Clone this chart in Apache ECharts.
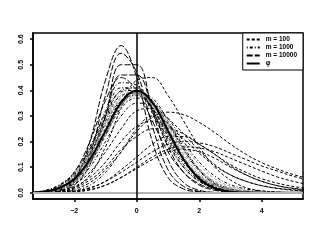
<!DOCTYPE html>
<html>
<head>
<meta charset="utf-8">
<script src="https://cdn.jsdelivr.net/npm/echarts@6/dist/echarts.min.js"></script>
<style>html,body{margin:0;padding:0;background:#fff}#c{width:320px;height:240px}</style>
</head>
<body>
<div id="c"></div>
<script>
// x grid at which densities are read
const xGrid = [-3.5,-3,-2.5,-2,-1.5,-1,-0.5,0,0.5,1,1.5,2,2.5,3,3.5,4,4.5,5,5.5];
const xTicks = [-2,0,2,4];
const yTicks = [0,0.1,0.2,0.3,0.4,0.5,0.6];
const legendNames = ['m = 100','m = 1000','m = 10000','\u03c6'];

// standard normal density
const phiValues = [0.001,0.004,0.018,0.054,0.130,0.242,0.352,0.399,0.352,0.242,0.130,0.054,0.018,0.004,0.001,0,0,0,0];

// m = 100 (dashed)
const m100Curves = [
  [0,0.001,0.005,0.015,0.04,0.09,0.16,0.24,0.295,0.315,0.305,0.275,0.235,0.19,0.15,0.118,0.093,0.072,0.055],
  [0,0,0.003,0.008,0.02,0.045,0.08,0.12,0.16,0.19,0.2,0.195,0.18,0.155,0.13,0.105,0.085,0.065,0.05],
  [0,0,0.002,0.005,0.012,0.03,0.06,0.1,0.14,0.17,0.18,0.175,0.16,0.135,0.11,0.085,0.062,0.045,0.032],
  [0,0.002,0.007,0.02,0.05,0.1,0.17,0.22,0.25,0.25,0.23,0.19,0.15,0.11,0.08,0.055,0.038,0.025,0.017],
  [0,0.002,0.008,0.025,0.06,0.12,0.2,0.26,0.28,0.26,0.21,0.155,0.105,0.07,0.045,0.028,0.017,0.01,0.006],
  [0,0,0.002,0.006,0.018,0.045,0.09,0.14,0.19,0.22,0.22,0.19,0.15,0.105,0.07,0.045,0.028,0.017,0.01],
  [0,0.003,0.012,0.035,0.08,0.16,0.25,0.32,0.33,0.29,0.23,0.165,0.11,0.07,0.045,0.028,0.018,0.012,0.008],
  [0,0,0.001,0.004,0.012,0.03,0.06,0.095,0.13,0.16,0.17,0.16,0.135,0.1,0.07,0.045,0.028,0.018,0.012],
  [0,0.001,0.005,0.02,0.07,0.18,0.33,0.44,0.45,0.38,0.28,0.18,0.1,0.05,0.02,0.008,0.003,0.001,0]
];

// m = 1000 (dot-dash)
const m1000Curves = [
  [0.001,0.005,0.02,0.065,0.16,0.29,0.40,0.41,0.33,0.22,0.12,0.06,0.025,0.01,0.004,0.001,0,0,0],
  [0.001,0.004,0.02,0.06,0.15,0.28,0.38,0.39,0.33,0.23,0.13,0.065,0.03,0.012,0.005,0.002,0.001,0,0],
  [0.001,0.004,0.02,0.06,0.17,0.32,0.43,0.42,0.32,0.2,0.1,0.045,0.018,0.007,0.002,0,0,0,0],
  [0,0.003,0.015,0.05,0.12,0.23,0.33,0.37,0.35,0.27,0.17,0.09,0.04,0.016,0.006,0.002,0,0,0],
  [0,0.002,0.01,0.04,0.1,0.2,0.3,0.35,0.345,0.29,0.2,0.12,0.065,0.032,0.015,0.007,0.003,0.001,0],
  [0.002,0.008,0.03,0.08,0.18,0.31,0.41,0.41,0.31,0.19,0.1,0.045,0.018,0.006,0.002,0,0,0,0],
  [0.001,0.006,0.025,0.07,0.155,0.27,0.36,0.38,0.33,0.23,0.13,0.06,0.024,0.008,0.002,0,0,0,0],
  [0,0.003,0.014,0.05,0.13,0.25,0.36,0.4,0.36,0.25,0.14,0.06,0.02,0.006,0.001,0,0,0,0],
  [0,0,0.003,0.01,0.03,0.08,0.16,0.25,0.3,0.27,0.18,0.09,0.035,0.012,0.004,0.001,0,0,0],
  [0.002,0.007,0.028,0.075,0.17,0.3,0.395,0.4,0.32,0.21,0.11,0.05,0.02,0.007,0.002,0,0,0,0],
  [0,0.002,0.012,0.045,0.115,0.225,0.34,0.39,0.37,0.28,0.17,0.085,0.035,0.012,0.004,0.001,0,0,0]
];

// m = 10000 (long dash)
const m10000Curves = [
  [0,0.002,0.01,0.05,0.2,0.44,0.575,0.45,0.2,0.06,0.015,0.004,0.001,0,0,0,0,0,0],
  [0,0.002,0.01,0.04,0.15,0.38,0.545,0.47,0.26,0.09,0.025,0.006,0.001,0,0,0,0,0,0],
  [0,0.001,0.008,0.03,0.11,0.3,0.5,0.5,0.32,0.13,0.04,0.01,0.002,0,0,0,0,0,0],
  [0.001,0.005,0.025,0.08,0.2,0.36,0.45,0.4,0.28,0.16,0.08,0.035,0.014,0.005,0.001,0,0,0,0],
  [0,0.003,0.012,0.045,0.14,0.3,0.46,0.46,0.33,0.18,0.08,0.03,0.01,0.003,0,0,0,0,0]
];

// lighter grey curves near phi
const greyCurves = [
  [0.001,0.004,0.018,0.058,0.14,0.26,0.37,0.4,0.35,0.25,0.15,0.075,0.032,0.012,0.004,0.001,0,0,0],
  [0,0.003,0.015,0.05,0.125,0.24,0.345,0.39,0.355,0.265,0.17,0.095,0.045,0.02,0.008,0.003,0.001,0,0],
  [0.001,0.006,0.024,0.07,0.16,0.285,0.39,0.41,0.34,0.23,0.13,0.065,0.028,0.01,0.003,0,0,0,0],
  [0,0.002,0.01,0.04,0.11,0.22,0.33,0.38,0.36,0.28,0.19,0.11,0.055,0.025,0.01,0.004,0.001,0,0],
  [0.001,0.005,0.022,0.065,0.15,0.27,0.375,0.395,0.34,0.24,0.14,0.07,0.03,0.011,0.004,0.001,0,0,0],
  [0,0.003,0.013,0.045,0.12,0.235,0.34,0.385,0.35,0.26,0.16,0.085,0.04,0.017,0.007,0.002,0,0,0]
];

const FONT = 'Liberation Sans';
function pts(vals){ return xGrid.map((x,i)=>[x, vals[i]]); }
function mk(name, vals, dash, color, width){
  return {
    type:'line', name:name, data:pts(vals), smooth:0.4, showSymbol:false, symbol:'none',
    silent:true, clip:true, z:2,
    itemStyle:{color:color},
    lineStyle:{color:color, width:width, type:dash}
  };
}
const series = [];
m100Curves.forEach(v=>series.push(mk(legendNames[0], v, [3,2], '#000', 1)));
m1000Curves.forEach(v=>series.push(mk(legendNames[1], v, [1,2,3,2], '#000', 1)));
m10000Curves.forEach(v=>series.push(mk(legendNames[2], v, [6,2], '#000', 1)));
greyCurves.forEach(v=>series.push(mk('grey', v, [3,2], '#9a9a9a', 1)));
const phiSeries = mk(legendNames[3], phiValues, 'solid', '#000', 2);
phiSeries.z = 3;
phiSeries.markLine = {
  silent:true, symbol:'none', animation:false, label:{show:false},
  data:[
    {yAxis:0, lineStyle:{color:'#b4b4b4', width:2, type:'solid'}},
    {xAxis:0, lineStyle:{color:'#000', width:1.5, type:'solid'}}
  ]
};
series.push(phiSeries);

const chart = echarts.init(document.getElementById('c'), null, {renderer:'canvas'});
chart.setOption({
  animation:false,
  backgroundColor:'#fff',
  grid:{left:33, right:17, top:33, bottom:41, show:true, borderColor:'#000', borderWidth:1.5, backgroundColor:'transparent'},
  legend:{
    data:legendNames, right:17, top:33, orient:'vertical',
    backgroundColor:'#fff', borderColor:'#000', borderWidth:1, borderRadius:0,
    padding:[3,6,3,3], itemGap:1, itemWidth:13, itemHeight:6,
    itemStyle:{opacity:0},
    textStyle:{fontFamily:FONT, fontSize:6.5, fontWeight:'bold', color:'#000', padding:[0,0,0,1]},
    selectedMode:false
  },
  xAxis:{
    type:'value', min:-3.32, max:5.32,
    axisLine:{show:true, onZero:false, lineStyle:{color:'#000', width:1.5}},
    axisTick:{show:true, length:3, customValues:xTicks, lineStyle:{color:'#000', width:1.5}},
    axisLabel:{customValues:xTicks, margin:9, fontFamily:FONT, fontSize:7, fontWeight:'bold', color:'#000',
      formatter:v=>(v<0?'\u2212'+Math.abs(v):String(v))},
    splitLine:{show:false}
  },
  yAxis:{
    type:'value', min:-0.024, max:0.624,
    axisLine:{show:true, onZero:false, lineStyle:{color:'#000', width:1.5}},
    axisTick:{show:true, length:3, customValues:yTicks, lineStyle:{color:'#000', width:1.5}},
    axisLabel:{customValues:yTicks, rotate:90, margin:8, fontFamily:FONT, fontSize:7, fontWeight:'bold', color:'#000',
      formatter:v=>v.toFixed(1)},
    splitLine:{show:false}
  },
  series:series
});
</script>
</body>
</html>
